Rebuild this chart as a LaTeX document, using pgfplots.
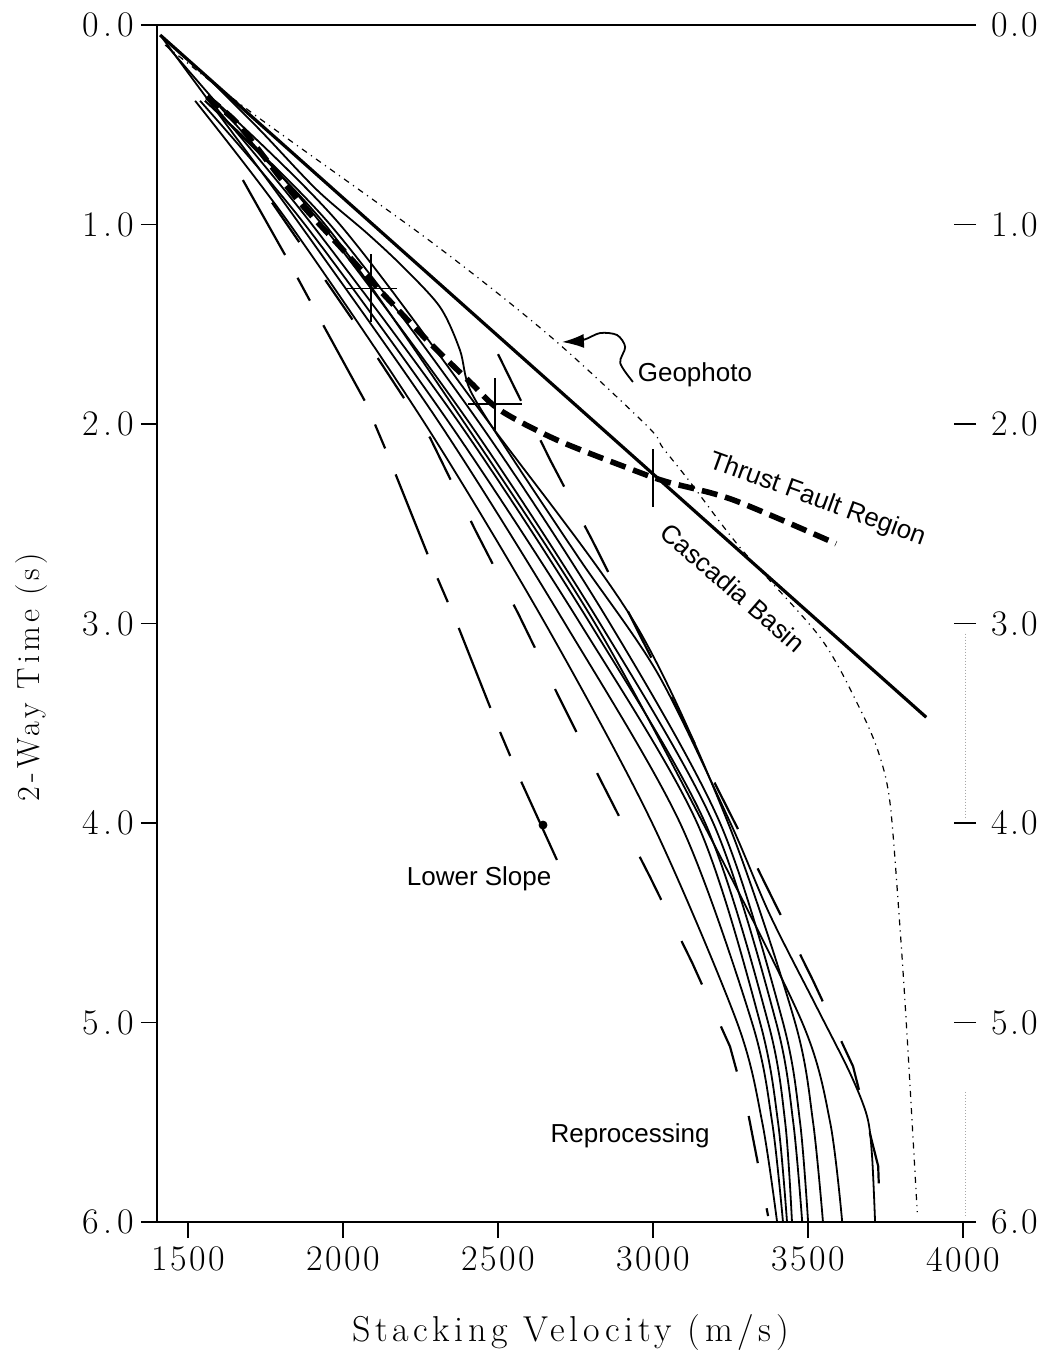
\documentclass[border=0pt]{standalone}
\usepackage{fontspec}
\setmainfont{Latin Modern Roman}
\newfontfamily\lsp{Latin Modern Roman}[LetterSpace=7]
\newfontfamily\lspw{Latin Modern Roman}[LetterSpace=13]
\newfontfamily\arial{Liberation Sans}
\usepackage{pgfplots}
\pgfplotsset{compat=1.18}
\usetikzlibrary{arrows.meta}
\begin{document}
\begin{tikzpicture}
\pgfplotsset{
  commonax/.style={
    scale only axis, width=404pt, height=598.5pt,
    xmin=1400, xmax=4006, ymin=0, ymax=6, y dir=reverse,
    ytick={0,1,2,3,4,5,6},
    yticklabels={0.0,1.0,2.0,3.0,4.0,5.0,6.0},
    every tick/.style={black, line width=0.8pt},
    xticklabel style={font=\lsp\fontsize{18}{20}\selectfont},
    yticklabel style={font=\lspw\fontsize{18}{20}\selectfont},
  }
}
\begin{axis}[
  commonax,
  axis x line*=box, axis y line*=left,
  axis line style={line width=1pt, -},
  xtick pos=left,
  xtick={1500,2000,2500,3000,3500,4000},
  xticklabels={1500,2000,2500,3000,3500,4000},
  tick align=outside,
  major tick length=8pt,
  xticklabel style={yshift=-1pt},
  xlabel={Stacking Velocity (m/s)},
  ylabel={2-Way Time (s)},
  xlabel style={at={(axis description cs:0.512,-0.0927)}, anchor=center, font=\lspw\fontsize{18}{20}\selectfont},
  ylabel style={at={(axis description cs:-0.155,0.455)}, anchor=center, font=\lspw\fontsize{16}{18}\selectfont},
  clip=false,
]
\coordinate (bbsw) at (axis description cs:-0.1943,-0.1111);
\coordinate (bbne) at (axis description cs:1.104,1.0209);

% Cascadia Basin line
\addplot[black, line width=1.6pt] coordinates {(1410,0.05) (3881,3.47)};
% Thrust fault region (bold dashed)
\addplot[black, line width=2.8pt, dash pattern=on 8pt off 4pt, smooth] coordinates {
(1561,0.36) (1658,0.49) (1755,0.68) (1861,0.89) (1990,1.11) (2119,1.33) (2271,1.58)
(2410,1.79) (2506,1.93) (2690,2.08) (2935,2.23) (3045,2.29) (3258,2.38) (3590,2.60)};
% Geophoto
\addplot[black, line width=0.6pt, dash pattern=on 3pt off 2.5pt on 0.6pt off 2.5pt, smooth] coordinates {
(1426,0.10) (1706,0.44) (2287,1.09) (2668,1.56) (2981,2.01) (3032,2.12) (3119,2.29)
(3281,2.62) (3539,3.07) (3668,3.43) (3730,3.66) (3765,3.91) (3797,4.54) (3819,5.06) (3852,5.95)};
% Long-dashed reprocessing lines
\addplot[black, line width=1.1pt, dash pattern=on 43pt off 13pt on 13pt off 14pt] coordinates {
(1677,0.777) (1823,1.18) (1903,1.41) (2074,1.895) (2142,2.145) (2290,2.72) (2365,2.99)
(2500,3.52) (2571,3.78) (2706,4.24)};
\addplot[black, line width=1.1pt, dash pattern=on 24pt off 23pt] coordinates {
(1771,0.89) (2032,1.48) (2281,2.07) (2426,2.53) (2565,2.95) (2700,3.38) (2839,3.81)
(2990,4.27) (3126,4.70) (3248,5.12) (3306,5.45) (3371,5.97)};
\addplot[black, line width=1.1pt, dash pattern=on 26pt off 22pt] coordinates {
(2500,1.65) (2668,2.18) (2803,2.58) (2958,3.06) (3303,4.12) (3516,4.79) (3645,5.22) (3726,5.72) (3732,5.99)};
% Solid reprocessing curves
\addplot[black, line width=0.9pt, smooth] coordinates {(1523,0.38) (1829,1) (2265,2) (2652,3) (2997,4) (3271,5) (3352,5.5) (3400,6)};
\addplot[black, line width=0.9pt, smooth] coordinates {(1415,0.06) (1567,0.38) (1861,1) (2313,2) (2716,3) (3087,4) (3319,5) (3384,5.5) (3419,6)};
\addplot[black, line width=0.9pt, smooth] coordinates {(1539,0.38) (1877,1) (2345,2) (2765,3) (3142,4) (3345,5) (3403,5.5) (3432,6)};
\addplot[black, line width=0.9pt, smooth] coordinates {(1571,0.38) (1900,1) (2377,2) (2797,3) (3168,4) (3371,5) (3426,5.5) (3448,6)};
\addplot[black, line width=0.9pt, smooth] coordinates {(1430,0.10) (1586,0.38) (1932,1) (2410,2) (2829,3) (3194,4) (3397,5) (3452,5.5) (3481,6)};
\addplot[black, line width=0.9pt, smooth] coordinates {(1555,0.38) (1958,1) (2442,2) (2861,3) (3216,4) (3419,5) (3474,5.5) (3500,6)};
\addplot[black, line width=0.9pt, smooth] coordinates {(1587,0.38) (1990,1) (2474,2) (2942,3) (3242,4) (3458,5) (3516,5.5) (3548,6)};
\addplot[black, line width=0.9pt, smooth] coordinates {(1555,0.38) (1942,1) (2394,2) (2813,3) (3161,4) (3481,5) (3571,5.5) (3610,6)};
\addplot[black, line width=0.9pt, smooth] coordinates {
(1539,0.226) (1732,0.526) (1916,0.827) (2077,1.043) (2194,1.213) (2313,1.414) (2377,1.629)
(2410,1.830) (2529,2.130) (2765,2.682) (3016,3.253) (3248,3.995) (3377,4.461) (3529,4.927)
(3635,5.253) (3690,5.469) (3706,5.664) (3716,6.0)};
% dot on lower slope line
\addplot[only marks, mark=*, mark size=2pt, black] coordinates {(2645,4.01)};
% crosses
\addplot[black, draw=none, mark=none,
  error bars/.cd, x dir=both, x explicit, y dir=both, y explicit, error mark=none,
  error bar style={line width=0.8pt, black}] coordinates {
(2090,1.32) +- (85,0.17)
(2490,1.90) +- (88,0.13)
(3000,2.27) +- (0,0.145)};
% Geophoto arrow
\addplot[black, line width=0.9pt, smooth, -{Latex[length=11pt,width=7pt]}] coordinates {
(2935,1.789) (2894,1.694) (2910,1.614) (2884,1.554) (2829,1.544) (2774,1.579) (2706,1.589)};
% faint right axis fragments
\draw[gray!70, line width=0.5pt, densely dotted] (axis cs:4006,3.05) -- (axis cs:4006,3.97);
\draw[gray!70, line width=0.5pt, densely dotted] (axis cs:4006,5.35) -- (axis cs:4006,5.98);
% labels
\node[font=\arial\fontsize{13}{15}\selectfont] at (axis cs:3135,1.754) {Geophoto};
\node[font=\arial\fontsize{13}{15}\selectfont, rotate=-20, inner sep=0pt] at (axis cs:3529,2.38) {Thrust Fault Region};
\node[font=\arial\fontsize{13}{15}\selectfont, rotate=-41, inner sep=0pt] at (axis cs:3258,2.82) {Cascadia Basin};
\node[font=\arial\fontsize{13}{15}\selectfont] at (axis cs:2439,4.28) {Lower Slope};
\node[font=\arial\fontsize{13}{15}\selectfont] at (axis cs:2926,5.57) {Reprocessing};
\end{axis}
\begin{axis}[
  commonax,
  axis x line=none, axis y line*=right,
  y axis line style={draw=none},
  tick align=center,
  major tick length=11pt,
  yticklabel style={xshift=4pt, font=\lsp\fontsize{18}{20}\selectfont},
]
\end{axis}
\pgfresetboundingbox
\path[use as bounding box] (bbsw) rectangle (bbne);
\end{tikzpicture}
\end{document}
